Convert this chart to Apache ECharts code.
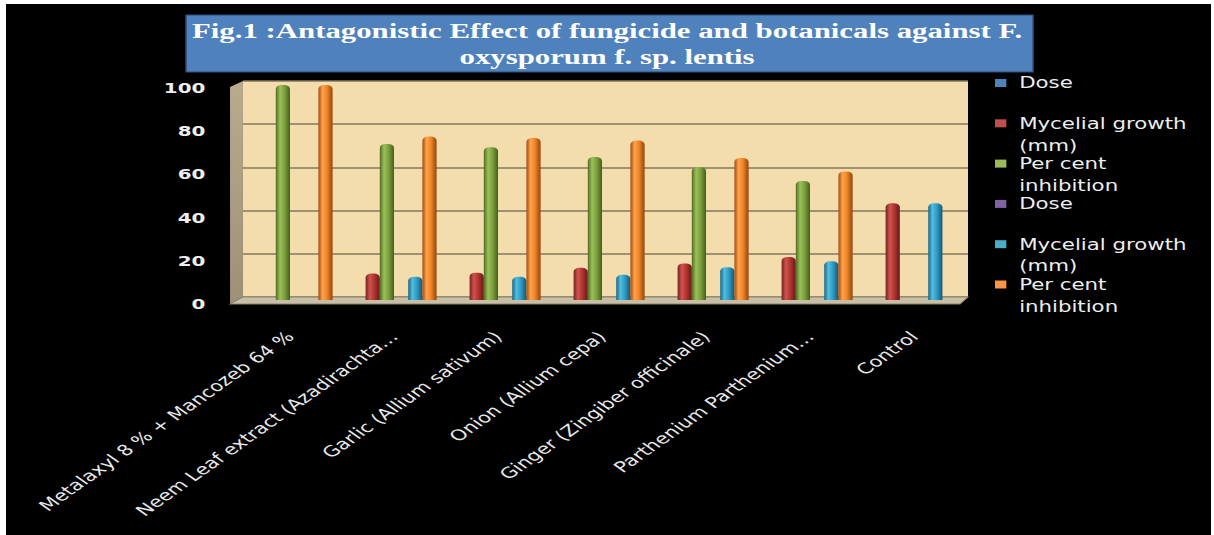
<!DOCTYPE html>
<html>
<head>
<meta charset="utf-8">
<title>Antagonistic Effect of fungicide and botanicals</title>
<script src="https://cdn.jsdelivr.net/npm/echarts@6/dist/echarts.min.js"></script>
<style>
  html, body { margin: 0; padding: 0; background: #ffffff; width: 1214px; height: 535px; overflow: hidden; }
  #frame { position: absolute; left: 6px; top: 4px; width: 1205px; height: 531px; background: #000000; }
  /* chart is laid out in a narrower box and widened horizontally */
  #main { position: absolute; left: 0; top: 0; width: 855px; height: 535px; transform: scaleX(1.42); transform-origin: 0 0; }
</style>
</head>
<body>
<div id="frame"></div>
<div id="main"></div>
<script>
// Treatments on the category axis
const categories = [
  'Metalaxyl 8 % + Mancozeb 64 %',
  'Neem Leaf extract (Azadirachta\u2026',
  'Garlic (Allium sativum)',
  'Onion (Allium cepa)',
  'Ginger (Zingiber officinale)',
  'Parthenium Parthenium\u2026',
  'Control'
];

// First set of observations
const dose1 = [0, 0, 0, 0, 0, 0, 0];
const growth1 = [0, 12.3, 12.7, 15.0, 17.0, 20.0, 45.0];
const inhibition1 = [100, 72.6, 71.1, 66.5, 61.8, 55.4, 0];

// Second set of observations
const dose2 = [0, 0, 0, 0, 0, 0, 0];
const growth2 = [0, 10.8, 10.8, 11.7, 15.2, 18.0, 45.0];
const inhibition2 = [100, 76.0, 75.3, 74.2, 66.0, 59.8, 0];

// Value axis ticks
const yMin = 0, yMax = 100, yStep = 20;

const titleText = 'Fig.1 :Antagonistic Effect of fungicide and botanicals against F.\noxysporum f. sp. lentis';

// Legend entries appear twice, so the second set carries a trailing space in its name
const seriesNames = ['Dose', 'Mycelial growth (mm)', 'Per cent inhibition',
                     'Dose ', 'Mycelial growth (mm) ', 'Per cent inhibition '];
// leading blank line keeps the first text line level with the swatch
const legendLabels = {
  'Dose': '\nDose\n ',
  'Mycelial growth (mm)': '\nMycelial growth\n(mm)',
  'Per cent inhibition': '\nPer cent\ninhibition'
};
const baseColors = ['#4f81bd', '#c0504d', '#9bbb59', '#8064a2', '#4bacc6', '#f79646'];

// Cylinder shading: dark edge, highlight, body, dark edge
const shades = [
  ['#2c4d75', '#6a9ad3', '#4f81bd', '#253f60'],
  ['#74201e', '#d0534f', '#b3342f', '#641a18'],
  ['#4f6a24', '#9cc059', '#7ea23c', '#44601e'],
  ['#4d3a66', '#9a7fbd', '#8064a2', '#3f2f55'],
  ['#1a6784', '#52bde0', '#2f9cc6', '#17566e'],
  ['#a24e14', '#ffa24a', '#ef8527', '#93450c']
];
function cylinder(s) {
  return new echarts.graphic.LinearGradient(0, 0, 1, 0, [
    { offset: 0, color: s[0] },
    { offset: 0.3, color: s[1] },
    { offset: 0.6, color: s[2] },
    { offset: 1, color: s[3] }
  ]);
}

const values = [dose1, growth1, inhibition1, dose2, growth2, inhibition2];

const chart = echarts.init(document.getElementById('main'), null, { renderer: 'svg', width: 855, height: 535 });

const series = seriesNames.map((name, i) => ({
  name: name,
  type: 'bar',
  xAxisIndex: 1,
  yAxisIndex: 1,
  data: values[i],
  barWidth: 10,
  barGap: '0%',
  color: baseColors[i],
  itemStyle: { color: cylinder(shades[i]), borderRadius: [4, 4, 0, 0] },
  z: 3
}));

chart.setOption({
  backgroundColor: 'transparent',
  animation: false,
  title: {
    text: titleText,
    left: 'center',
    top: 18,
    padding: 0,
    textStyle: {
      color: '#ffffff',
      fontFamily: 'Liberation Serif',
      fontWeight: 'bold',
      fontSize: 21.7,
      lineHeight: 26
    }
  },
  legend: {
    orient: 'vertical',
    left: 700.7,
    top: 50,
    padding: 0,
    itemWidth: 8,
    itemHeight: 8,
    itemGap: -25.7,
    icon: 'rect',
    selectedMode: false,
    formatter: name => legendLabels[name.trim()],
    textStyle: {
      color: '#eeeeee',
      fontFamily: 'DejaVu Sans',
      fontSize: 15,
      lineHeight: 22,
      padding: [0, 0, 0, 4]
    },
    data: seriesNames.map((n, i) => ({ name: n, itemStyle: { color: baseColors[i] } }))
  },
  grid: [
    // back wall
    { left: 171.1, right: 173.3, top: 81, bottom: 238, show: true, backgroundColor: '#f3ddac', borderWidth: 0 },
    // bars
    { left: 167.6, right: 174.7, top: 85, bottom: 235 },
    // front edge carrying the value labels
    { left: 167.6, right: 174.7, top: 87.7, bottom: 230.7 }
  ],
  xAxis: [
    { type: 'category', gridIndex: 0, data: categories, show: false },
    {
      type: 'category', gridIndex: 1, data: categories,
      axisLine: { show: false }, axisTick: { show: false },
      axisLabel: {
        interval: 0, rotate: 45, margin: 34,
        color: '#e8e8e8', fontFamily: 'DejaVu Sans', fontSize: 15
      }
    },
    { type: 'category', gridIndex: 2, data: categories, show: false }
  ],
  yAxis: [
    {
      type: 'value', gridIndex: 0, min: yMin, max: yMax, interval: yStep,
      axisLine: { show: false }, axisTick: { show: false }, axisLabel: { show: false },
      splitLine: { show: true, lineStyle: { color: '#84775f', width: 1.5 } }
    },
    {
      type: 'value', gridIndex: 1, min: yMin, max: yMax, interval: yStep,
      axisLine: { show: false }, axisTick: { show: false }, axisLabel: { show: false },
      splitLine: { show: false }
    },
    {
      type: 'value', gridIndex: 2, min: yMin, max: yMax, interval: yStep,
      axisLine: { show: false }, axisTick: { show: false }, splitLine: { show: false },
      axisLabel: {
        margin: 23, color: '#eeeeee', fontFamily: 'DejaVu Sans', fontWeight: 'bold', fontSize: 14
      }
    }
  ],
  graphic: [
    {
      type: 'rect', z: 1,
      shape: { x: 131, y: 15, width: 596.5, height: 57 },
      style: { fill: '#4f81bd', stroke: '#2d4f78', lineWidth: 1 }
    },
    {
      type: 'polygon', z: 1,
      shape: { points: [[162.0, 87], [171.1, 81], [171.1, 297], [162.0, 304]] },
      style: {
        fill: new echarts.graphic.LinearGradient(0, 0, 0, 1, [
          { offset: 0, color: '#b9ab8c' }, { offset: 1, color: '#9d9077' }
        ])
      }
    },
    {
      type: 'polygon', z: 1,
      shape: { points: [[171.1, 297], [681.7, 297], [676.1, 304], [162.0, 304]] },
      style: { fill: '#c9bfa6', stroke: '#8c836f', lineWidth: 0.8 }
    }
  ],
  series: series
});
</script>
</body>
</html>
